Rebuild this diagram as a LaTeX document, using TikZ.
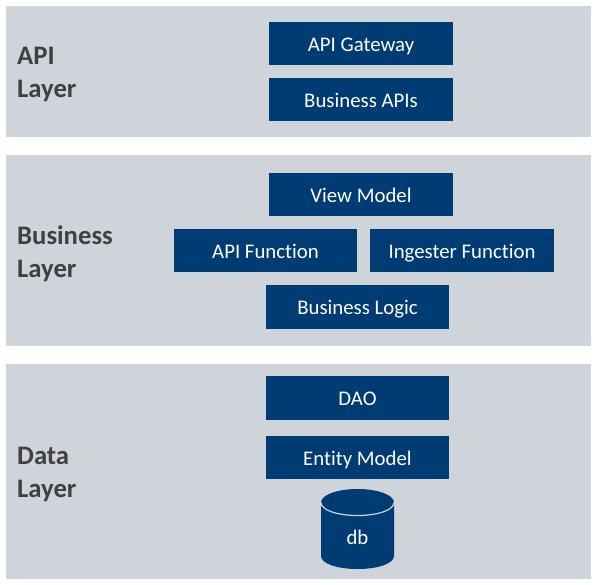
\documentclass[tikz,border=0pt]{standalone}
\usepackage{fontspec}
\setmainfont[Ligatures=NoCommon]{Carlito}
\definecolor{panelgrey}{HTML}{CFD3DA}
\definecolor{boxblue}{HTML}{003C74}
\definecolor{labelgrey}{HTML}{404040}
\tikzset{
  panel/.style={fill=panelgrey,draw=none},
  bluebox/.style={fill=boxblue,draw=none,text=white,font=\fontsize{20.8}{24}\selectfont,inner sep=0pt,text height=15.5pt,text depth=0pt},
  layerlabel/.style={text=labelgrey,font=\fontsize{26.7}{33}\selectfont\bfseries,anchor=west,align=left,inner sep=0pt}
}
\begin{document}
\begin{tikzpicture}[x=1pt,y=-1pt]
\useasboundingbox (0,0) rectangle (596,585);
\fill[white] (0,0) rectangle (596,585);
\path[panel] (6,6) rectangle (591,137);
\path[panel] (6,155) rectangle (591,346);
\path[panel] (6,364) rectangle (591,579);
\node[layerlabel] (l1) at (17,74.5) {API\\Layer};
\node[layerlabel] (l2) at (17,253.5) {Business\\Layer};
\node[layerlabel] (l3) at (17,474.5) {Data\\Layer};
\node[bluebox,minimum width=184pt,minimum height=43pt] (gw) at (361,43.5) {API Gateway};
\node[bluebox,minimum width=184pt,minimum height=43pt] (bapi) at (361,99.5) {Business APIs};
\node[bluebox,minimum width=184pt,minimum height=43pt] (vm) at (361,194.5) {View Model};
\node[bluebox,minimum width=183pt,minimum height=43pt] (af) at (265.5,250.5) {API Function};
\node[bluebox,minimum width=184pt,minimum height=43pt] (ing) at (462,250.5) {Ingester Function};
\node[bluebox,minimum width=183pt,minimum height=44pt] (bl) at (357.5,307) {Business Logic};
\node[bluebox,minimum width=183pt,minimum height=44pt] (dao) at (357.5,398) {DAO};
\node[bluebox,minimum width=183pt,minimum height=43pt] (em) at (357.5,457.5) {Entity Model};
\fill[boxblue] (321,502.5)
  .. controls (321,495) and (337,489) .. (357.5,489) .. controls (378,489) and (394,495) .. (394,502.5)
  -- (394,556) .. controls (394,563.5) and (378,569) .. (357.5,569) .. controls (337,569) and (321,563.5) .. (321,556) -- cycle;
\draw[panelgrey,line width=1.2pt] (321,502.5) .. controls (321,510) and (337,515.5) .. (357.5,515.5) .. controls (378,515.5) and (394,510) .. (394,502.5);
\node[bluebox,fill=none] (db) at (357.5,536.5) {db};
\end{tikzpicture}
\end{document}
